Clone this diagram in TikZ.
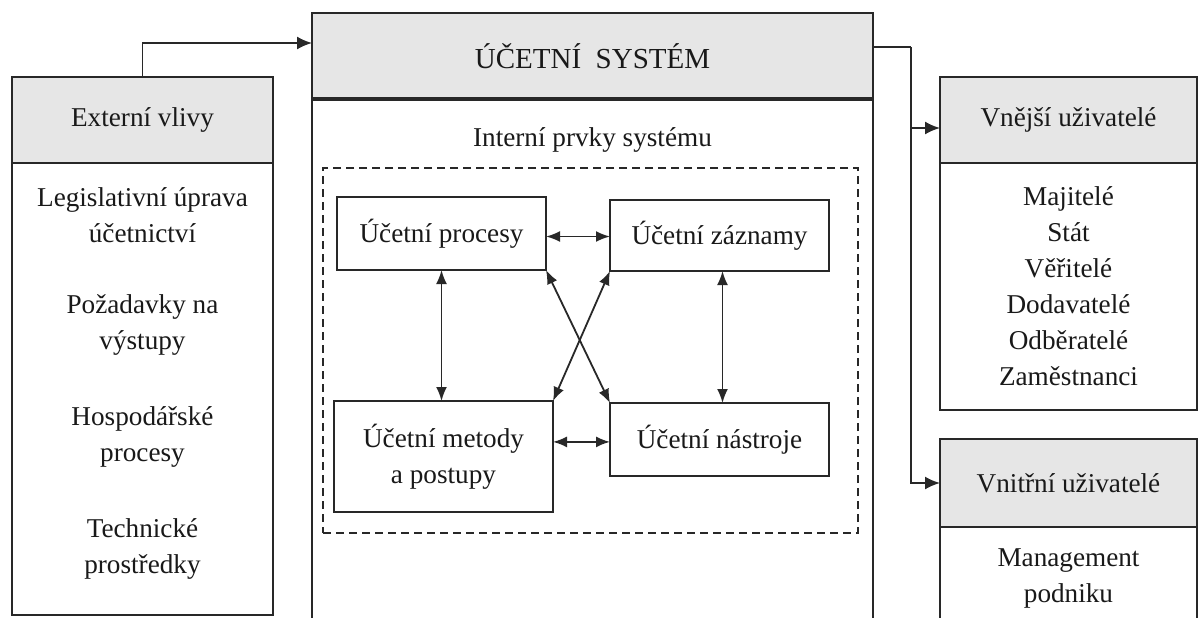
\documentclass[tikz,border=0pt]{standalone}
\usepackage{fontspec}
\setmainfont{Liberation Serif}
\usetikzlibrary{arrows.meta,calc}
\definecolor{hdr}{RGB}{230,230,230}
\definecolor{ink}{RGB}{40,40,40}
\definecolor{txtc}{RGB}{25,25,25}
\tikzset{
  txt/.style={font=\fontsize{13.6}{18}\selectfont, text=txtc, align=center},
  box/.style={draw=ink, line width=1.1pt, anchor=north west, inner sep=0pt, outer sep=0pt, txt},
  hdrbox/.style={box, fill=hdr},
  lbl/.style={inner sep=0pt, txt},
  dashbox/.style={draw=ink, line width=0.7pt, dash pattern=on 4pt off 2.5pt, anchor=north west, inner sep=0pt, outer sep=0pt},
  conn/.style={draw=ink, line width=0.9pt},
  arr/.style={conn, -{Latex[length=7.5pt,width=6.5pt]}},
  biarr/.style={conn, {Latex[length=7pt,width=5.5pt]}-{Latex[length=7pt,width=5.5pt]}},
}
\begin{document}
\begin{tikzpicture}[x=0.5pt,y=-0.5pt]
\useasboundingbox (0,0) rectangle (1200,617);
\clip (0,0) rectangle (1200,617);
\fill[white] (0,0) rectangle (1200,617);

% left column
\node[hdrbox, minimum width=130.5pt, minimum height=43pt] (exth) at (12,77) {Externí vlivy};
\node[box, minimum width=130.5pt, minimum height=226pt] (extb) at (12,163) {};
\node[lbl] (e1) at (142.5,215) {Legislativní úprava\\účetnictví};
\node[lbl] (e2) at (142.5,325) {Požadavky na\\výstupy};
\node[lbl] (e3) at (142.5,437) {Hospodářské\\procesy};
\node[lbl] (e4) at (142.5,549) {Technické\\prostředky};

% main system
\node[box, minimum width=280.5pt, minimum height=272pt] (sysb) at (312,99) {};
\node[hdrbox, minimum width=280.5pt, minimum height=43pt, font=\fontsize{14.5}{18}\selectfont] (sys) at (312,13) {ÚČETNÍ\ \ SYSTÉM};
\draw[draw=ink, line width=1.8pt] (sys.south west) -- (sys.south east);
\node[lbl] (intl) at (592.5,140) {Interní prvky systému};
\node[dashbox, minimum width=267.5pt, minimum height=182.5pt] (int) at (323,168) {};
\node[box, minimum width=104.5pt, minimum height=36.5pt] (proc) at (337,197) {Účetní procesy};
\node[box, minimum width=109.5pt, minimum height=35.5pt] (zazn) at (610,200) {Účetní záznamy};
\node[box, minimum width=109.5pt, minimum height=55.5pt] (met) at (334,401) {Účetní metody\\a postupy};
\node[box, minimum width=109.5pt, minimum height=36.5pt] (nas) at (610,403) {Účetní nástroje};

\draw[biarr] ([yshift=-1.5pt]proc.east) -- ([yshift=-1.5pt]proc.east -| zazn.west);
\draw[biarr] ([yshift=-1.2pt]nas.west -| met.east) -- ([yshift=-1.2pt]nas.west);
\draw[biarr] (proc.south) -- (proc.south |- met.north);
\draw[biarr] ([xshift=1.5pt]zazn.south) -- ([xshift=1.5pt]zazn.south |- nas.north);
\draw[biarr] (proc.south east) -- (nas.north west);
\draw[biarr] (zazn.south west) -- (met.north east);

% right column
\node[hdrbox, minimum width=128.5pt, minimum height=43pt] (vnh) at (940,77) {Vnější uživatelé};
\node[box, minimum width=128.5pt, minimum height=123.5pt] (vnb) at (940,163) {Majitelé\\Stát\\Věřitelé\\Dodavatelé\\Odběratelé\\Zaměstnanci};
\node[box, minimum width=128.5pt, minimum height=60pt] (vib) at (940,527) {};
\node[hdrbox, minimum width=128.5pt, minimum height=44pt] (vih) at (940,439) {Vnitřní uživatelé};
\node[lbl] (mgmt) at (1068.5,578) {Management\\podniku};

% connectors
\coordinate (join) at (142.5,43);
\draw[arr] (exth.north) |- (sys.west |- join);
\coordinate (split) at (911,47);
\draw[conn] (split -| sys.east) -- (split);
\draw[arr] (split) |- ([yshift=-4pt]vnh.west);
\draw[arr] (split) |- (vih.west);
\end{tikzpicture}
\end{document}
